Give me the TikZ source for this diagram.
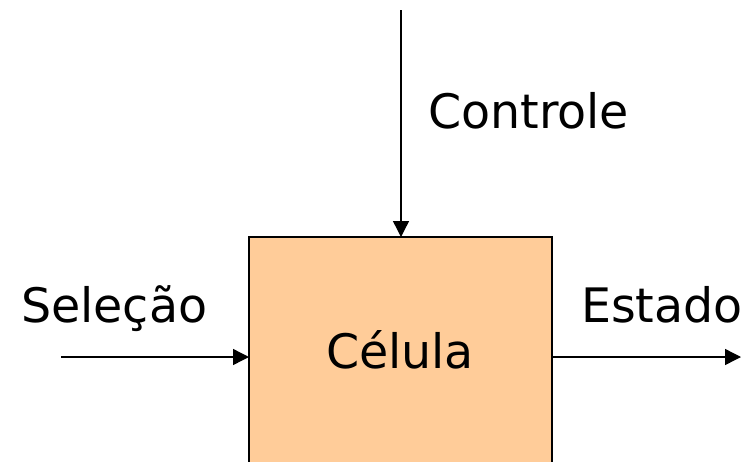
\documentclass[tikz,border=0pt]{standalone}
\usepackage{fontspec}
\setmainfont{DejaVu Sans}
\usetikzlibrary{arrows.meta}
\definecolor{cellfill}{HTML}{FFCC99}
\begin{document}
\begin{tikzpicture}[x=1pt,y=-1pt,
  lbl/.style={inner sep=0pt,font=\fontsize{47.5}{57}\selectfont},
  conn/.style={line width=1.4pt,-{Triangle[length=16pt,width=16pt]}},
  cellbox/.style={draw,line width=1.8pt,fill=cellfill}]
\useasboundingbox (0,0) rectangle (747,461);
\clip (0,0) rectangle (747,461);
\draw[cellbox] (249,237) rectangle (552,480);
\coordinate (boxtop) at (401,237);
\coordinate (boxleft) at (249,357);
\coordinate (boxright) at (552,357);
\coordinate (ctop) at (401,10);
\coordinate (sin) at (61,357);
\coordinate (eout) at (741,357);
\node[lbl,anchor=base] (cell) at (400,368) {Célula};
\node[lbl,anchor=base west] (ctl) at (428,128) {Controle};
\node[lbl,anchor=base west] (sel) at (21,322) {Seleção};
\node[lbl,anchor=base west] (est) at (581,322) {Estado};
\draw[conn] (ctop) -- (boxtop);
\draw[conn] (sin) -- (boxleft);
\draw[conn] (boxright) -- (eout);
\end{tikzpicture}
\end{document}
